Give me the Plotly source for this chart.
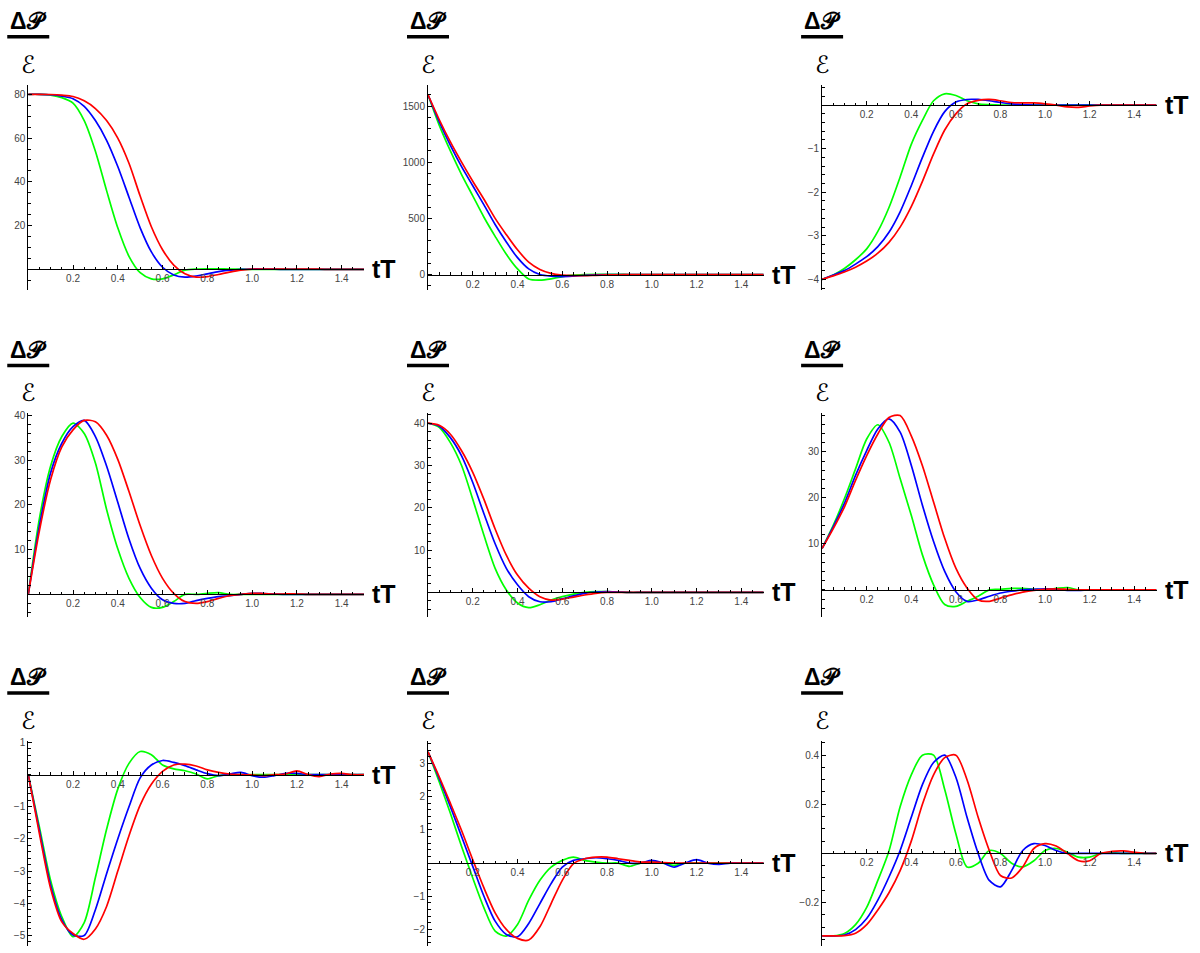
import plotly.graph_objects as go

# ---------------- data ----------------
T = [0.0, 0.05, 0.1, 0.15, 0.2, 0.25, 0.3, 0.35, 0.4, 0.45, 0.5, 0.55, 0.6, 0.65, 0.7, 0.75,
     0.8, 0.85, 0.9, 0.95, 1.0, 1.05, 1.1, 1.15, 1.2, 1.25, 1.3, 1.35, 1.4, 1.45, 1.5]

P1_GREEN = [80, 80, 79.6, 78.5, 76, 68, 54, 36, 19, 6, -1.5, -4.3, -4.3, -2.5, -0.3, 0.2, 0.3, 0.3, 0.2, 0.1, 0, 0, 0, 0, 0, 0, 0, 0, 0, 0, 0]
P1_BLUE = [80, 80, 79.8, 79.2, 78, 74.5, 68, 59, 47, 33, 19, 8, 1, -2.5, -3.5, -3, -2, -1, -0.3, 0, 0.2, 0.2, 0.1, 0, 0, 0, 0, 0, 0, 0, 0]
P1_RED = [80, 80, 79.9, 79.6, 79, 77, 73.5, 68, 60, 48.5, 33.5, 19.5, 9, 2, -2, -3.5, -3.3, -2.3, -1.2, -0.3, 0.1, 0.2, 0.2, 0.1, 0.1, 0.2, 0.1, 0, 0, 0, 0]

P2_GREEN = [1600, 1330, 1100, 890, 700, 510, 340, 180, 50, -40, -50, -38, -18, -5, 0, 2, 2, 1, 0, 0, 0, 0, 0, 0, 0, 0, 0, 0, 0, 0, 0]
P2_BLUE = [1600, 1360, 1150, 960, 790, 620, 445, 290, 150, 50, 0, -15, -18, -14, -8, -3, 0, 0, 0, 0, 0, 0, 0, 0, 0, 0, 0, 0, 0, 0, 0]
P2_RED = [1600, 1380, 1180, 1000, 830, 670, 500, 355, 220, 110, 45, 10, -5, -10, -10, -7, -4, -2, 0, 0, 0, 0, 0, 0, 0, 0, 0, 0, 0, 0, 0]

P3_GREEN = [-4, -3.9, -3.75, -3.55, -3.3, -2.9, -2.35, -1.65, -0.9, -0.35, 0.1, 0.26, 0.22, 0.1, 0.03, 0.01, 0, 0, 0, 0, 0, 0, 0, 0, 0, 0, 0, 0, 0, 0, 0]
P3_BLUE = [-4, -3.9, -3.8, -3.65, -3.48, -3.25, -2.92, -2.45, -1.85, -1.2, -0.6, -0.15, 0.07, 0.13, 0.13, 0.1, 0.06, 0.03, 0.01, 0, 0, 0, 0, 0, 0, 0, 0, 0, 0, 0, 0]
P3_RED = [-4, -3.92, -3.83, -3.72, -3.58, -3.4, -3.15, -2.8, -2.33, -1.75, -1.12, -0.57, -0.2, 0.03, 0.11, 0.13, 0.1, 0.06, 0.05, 0.05, 0.03, 0, -0.04, -0.05, -0.02, 0, 0, 0, 0, 0, 0]

P4_GREEN = [0, 17, 28.7, 35.3, 38.3, 36, 29.4, 19, 10.2, 3.6, -0.7, -2.9, -2.9, -1.6, 0, 0, 0.25, 0.4, 0, 0, 0, 0, 0, 0, 0, 0, 0, 0, 0, 0, 0]
P4_BLUE = [0, 15.4, 27.2, 33.8, 37.5, 38.9, 35.3, 28.7, 20.6, 12.4, 5.8, 1.4, -1.2, -2, -2, -1.4, -0.9, -0.5, -0.3, 0, 0.25, 0.2, 0.1, 0, 0, 0, 0, 0, 0, 0, 0]
P4_RED = [0, 14.3, 25.7, 33, 36.8, 38.9, 38.6, 35.6, 30.2, 23, 15.4, 8.7, 3.6, 0.25, -1.6, -2, -1.6, -0.9, -0.3, 0, 0.25, 0.2, 0.1, 0.1, 0.1, 0, 0, 0, 0, 0, 0]

P5_GREEN = [40, 39, 35.4, 30, 22, 13.5, 5.7, 0.6, -2.5, -3.6, -2.9, -1.8, -1, -0.4, 0, 0.2, 0.2, 0.1, 0, 0, 0, 0, 0, 0, 0, 0, 0, 0, 0, 0, 0]
P5_BLUE = [40, 39.3, 36.6, 32.3, 26, 18.6, 11.5, 5.7, 1.8, -1, -2.2, -2.2, -1.5, -0.8, -0.2, 0.1, 0.2, 0.1, 0, 0, 0, 0, 0, 0, 0, 0, 0, 0, 0, 0, 0]
P5_RED = [40, 39.5, 37.4, 33.5, 28.4, 22, 15, 8.8, 4.1, 1, -1, -1.8, -1.6, -1.1, -0.6, -0.2, 0, 0, 0, 0, 0, 0, 0, 0, 0, 0, 0, 0, 0, 0, 0]

P6_GREEN = [9, 14, 19.8, 26.3, 32.8, 35.9, 32.1, 24.2, 16.2, 7.6, 1.1, -3.2, -3.6, -2.5, -1.4, 0, 0.1, 0.3, 0.3, 0.1, 0, 0.3, 0.5, 0, 0, 0, 0, 0, 0, 0, 0]
P6_BLUE = [9, 13.7, 18.8, 24.9, 30.3, 35, 37.2, 34.3, 27.1, 18.4, 10.5, 4, -0.4, -2.5, -2.2, -1.4, -0.7, -0.3, 0, 0.1, 0.2, 0.1, -0.1, -0.1, 0, 0, 0, 0, 0, 0, 0]
P6_RED = [9, 13.3, 18, 23.8, 29.2, 33.9, 37.5, 37.9, 33.5, 27, 19.1, 11.2, 4.7, 0.4, -2.2, -2.5, -1.8, -1.1, -0.5, -0.1, 0.1, 0.2, 0.1, 0, 0, 0, 0, 0, 0, 0, 0]

P7_GREEN = [0, -1.63, -3.29, -4.42, -5.04, -4.6, -3.2, -1.7, -0.45, 0.35, 0.72, 0.62, 0.3, 0.18, 0.12, 0.02, -0.13, -0.03, 0, 0, 0, 0, 0, 0, 0, 0, 0, 0, 0, 0, 0]
P7_BLUE = [0, -1.74, -3.44, -4.52, -4.99, -5.0, -4.2, -3.08, -2.0, -1.0, -0.1, 0.3, 0.44, 0.38, 0.28, 0.15, 0.03, -0.03, 0.02, 0.07, -0.03, -0.08, -0.03, 0.04, 0.04, 0, 0, 0, 0, 0, 0]
P7_RED = [0, -1.84, -3.54, -4.58, -4.94, -5.12, -4.8, -4.1, -3.0, -1.9, -0.95, -0.3, 0.1, 0.3, 0.33, 0.27, 0.15, 0.07, 0.02, 0, -0.01, -0.03, 0, 0.02, 0.12, 0, -0.06, 0.02, 0.04, 0, 0]

P8_GREEN = [3.35, 2.45, 1.5, 0.5, -0.45, -1.35, -2.05, -2.2, -1.85, -1.12, -0.52, -0.12, 0.08, 0.18, 0.08, 0.03, 0, 0, -0.1, 0, 0.03, 0, -0.07, 0, 0, 0, 0, 0, 0, 0, 0]
P8_BLUE = [3.35, 2.55, 1.7, 0.8, -0.1, -1.0, -1.75, -2.15, -2.22, -1.82, -1.22, -0.62, -0.12, 0.08, 0.13, 0.16, 0.13, 0.08, 0, 0, 0.08, 0, -0.12, 0, 0.1, 0, -0.04, 0, 0, 0, 0]
P8_RED = [3.35, 2.6, 1.8, 0.98, 0.1, -0.75, -1.5, -2.0, -2.27, -2.32, -1.92, -1.22, -0.52, -0.02, 0.13, 0.18, 0.18, 0.13, 0.08, 0.03, 0.03, 0.01, 0, 0, 0, 0, 0, 0, 0, 0, 0]

P9_GREEN = [-0.336, -0.336, -0.326, -0.29, -0.22, -0.11, 0.01, 0.19, 0.32, 0.40, 0.40, 0.26, 0.08, -0.055, -0.04, 0.012, 0, -0.04, -0.055, -0.03, 0.012, 0.02, 0.005, -0.015, -0.015, 0, 0.003, 0, 0, 0, 0]
P9_BLUE = [-0.336, -0.336, -0.332, -0.31, -0.265, -0.19, -0.096, 0.012, 0.147, 0.28, 0.37, 0.40, 0.31, 0.147, 0, -0.11, -0.136, -0.07, 0.012, 0.04, 0.032, 0.012, 0, 0, 0, 0, 0, 0, 0, 0, 0]
P9_RED = [-0.336, -0.336, -0.335, -0.325, -0.29, -0.23, -0.16, -0.07, 0.05, 0.2, 0.32, 0.39, 0.40, 0.30, 0.147, 0.012, -0.09, -0.10, -0.055, 0.02, 0.04, 0.03, 0, -0.03, -0.03, 0, 0.008, 0.01, 0.005, 0, 0]

X_TICKS = [0.2, 0.4, 0.6, 0.8, 1.0, 1.2, 1.4]
X_TICKTEXT = ["0.2", "0.4", "0.6", "0.8", "1.0", "1.2", "1.4"]

Y_TICKS = [
    [20, 40, 60, 80],
    [0, 500, 1000, 1500],
    [-1, -2, -3, -4],
    [10, 20, 30, 40],
    [10, 20, 30, 40],
    [10, 20, 30],
    [1, -1, -2, -3, -4, -5],
    [3, 2, 1, -1, -2],
    [0.4, 0.2, -0.2],
]
Y_TICKTEXT = [
    ["20", "40", "60", "80"],
    ["0", "500", "1000", "1500"],
    ["\u22121", "\u22122", "\u22123", "\u22124"],
    ["10", "20", "30", "40"],
    ["10", "20", "30", "40"],
    ["10", "20", "30"],
    ["1", "\u22121", "\u22122", "\u22123", "\u22124", "\u22125"],
    ["3", "2", "1", "\u22121", "\u22122"],
    ["0.4", "0.2", "\u22120.2"],
]

PANELS = [
    (P1_GREEN, P1_BLUE, P1_RED),
    (P2_GREEN, P2_BLUE, P2_RED),
    (P3_GREEN, P3_BLUE, P3_RED),
    (P4_GREEN, P4_BLUE, P4_RED),
    (P5_GREEN, P5_BLUE, P5_RED),
    (P6_GREEN, P6_BLUE, P6_RED),
    (P7_GREEN, P7_BLUE, P7_RED),
    (P8_GREEN, P8_BLUE, P8_RED),
    (P9_GREEN, P9_BLUE, P9_RED),
]

# ---------------- layout / style ----------------
W, H = 1200, 953
COLS_PX = [(28.25, 364.0), (428.0, 763.7), (822.1, 1156.5)]
ROWS_PX = [(81.0, 287.0), (411.0, 616.0), (740.0, 946.0)]
Y_RANGES = [(-9.3, 84.4), (-136, 1690), (-4.24, 0.47),
            (-5.14, 40.5), (-5.9, 42.35), (-6.0, 38.4),
            (-5.33, 1.05), (-2.5, 3.68), (-0.377, 0.458)]
Y_MINOR = [5, 100, 0.2, 2, 2, 2, 0.2, 0.2, 0.05]
COLORS = ["#00ff00", "#0000ff", "#ff0000"]
TICKFONT = dict(family="Liberation Sans, Arial, sans-serif", size=10, color="#444444")


def minor_vals(lo, hi, step):
    vals = []
    k = int(lo // step)
    while k * step <= hi + 1e-12:
        v = round(k * step, 6)
        if lo <= v <= hi:
            vals.append(v)
        k += 1
    return vals


fig = go.Figure()
layout = dict(
    width=W, height=H,
    margin=dict(l=0, r=0, t=0, b=0),
    paper_bgcolor="white", plot_bgcolor="white",
    showlegend=False,
)
annotations = []
shapes = []

for k, series in enumerate(PANELS):
    r, c = divmod(k, 3)
    cx0, cx1 = COLS_PX[c]
    ry0, ry1 = ROWS_PX[r]
    xd = [cx0 / W, cx1 / W]
    yd = [1 - ry1 / H, 1 - ry0 / H]
    ymin, ymax = Y_RANGES[k]
    frac = (0 - ymin) / (ymax - ymin)
    ypos = yd[0] + frac * (yd[1] - yd[0])
    sfx = "" if k == 0 else str(k + 1)

    for vals, col in zip(series, COLORS):
        fig.add_trace(go.Scatter(
            x=T, y=vals, mode="lines",
            line=dict(color=col, width=1.7, shape="spline", smoothing=0.8),
            xaxis="x" + sfx, yaxis="y" + sfx, hoverinfo="skip",
        ))

    layout["xaxis" + sfx] = dict(
        domain=xd, range=[0, 1.5], anchor="free", position=ypos,
        showline=True, linecolor="#000000", linewidth=1,
        ticks="inside", ticklen=4, tickwidth=1, tickcolor="#000000",
        tickmode="array", tickvals=X_TICKS, ticktext=X_TICKTEXT,
        tickfont=TICKFONT, showgrid=False, zeroline=False,
        minor=dict(ticks="inside", ticklen=2.5, tickwidth=1, tickcolor="#000000",
                   tickmode="array", tickvals=minor_vals(0, 1.5, 0.05), showgrid=False),
    )
    layout["yaxis" + sfx] = dict(
        domain=yd, range=[ymin, ymax], anchor="x" + sfx,
        showline=True, linecolor="#000000", linewidth=1,
        ticks="inside", ticklen=4, tickwidth=1, tickcolor="#000000",
        tickmode="array", tickvals=Y_TICKS[k], ticktext=Y_TICKTEXT[k],
        tickfont=TICKFONT, showgrid=False, zeroline=False,
        minor=dict(ticks="inside", ticklen=2.5, tickwidth=1, tickcolor="#000000",
                   tickmode="array", tickvals=minor_vals(ymin, ymax, Y_MINOR[k]), showgrid=False),
    )

    # axis label tT
    annotations.append(dict(
        text="<b>tT</b>", x=(cx1 + 6) / W, y=ypos, xref="paper", yref="paper",
        xanchor="left", yanchor="middle", showarrow=False,
        font=dict(family="Liberation Sans, Arial, sans-serif", size=25, color="black"),
    ))
    # y label: fraction ΔP / E
    annotations.append(dict(
        text="<b>\u0394\U0001D4AB</b>", x=cx0 / W, y=1 - (ry0 - 64) / H,
        xref="paper", yref="paper", xanchor="center", yanchor="middle", showarrow=False,
        font=dict(family="Liberation Sans, DejaVu Sans, sans-serif", size=23, color="black"),
    ))
    annotations.append(dict(
        text="\u2130", x=cx0 / W, y=1 - (ry0 - 20) / H,
        xref="paper", yref="paper", xanchor="center", yanchor="middle", showarrow=False,
        font=dict(family="DejaVu Serif, DejaVu Sans, serif", size=24, color="black"),
    ))
    shapes.append(dict(
        type="line", xref="paper", yref="paper",
        x0=(cx0 - 21) / W, x1=(cx0 + 21) / W,
        y0=1 - (ry0 - 48) / H, y1=1 - (ry0 - 48) / H,
        line=dict(color="black", width=3.5),
    ))

layout["annotations"] = annotations
layout["shapes"] = shapes
fig.update_layout(**layout)

fig.write_html("out.html", config={"displayModeBar": False},
               post_script="document.body.style.margin='0';")
